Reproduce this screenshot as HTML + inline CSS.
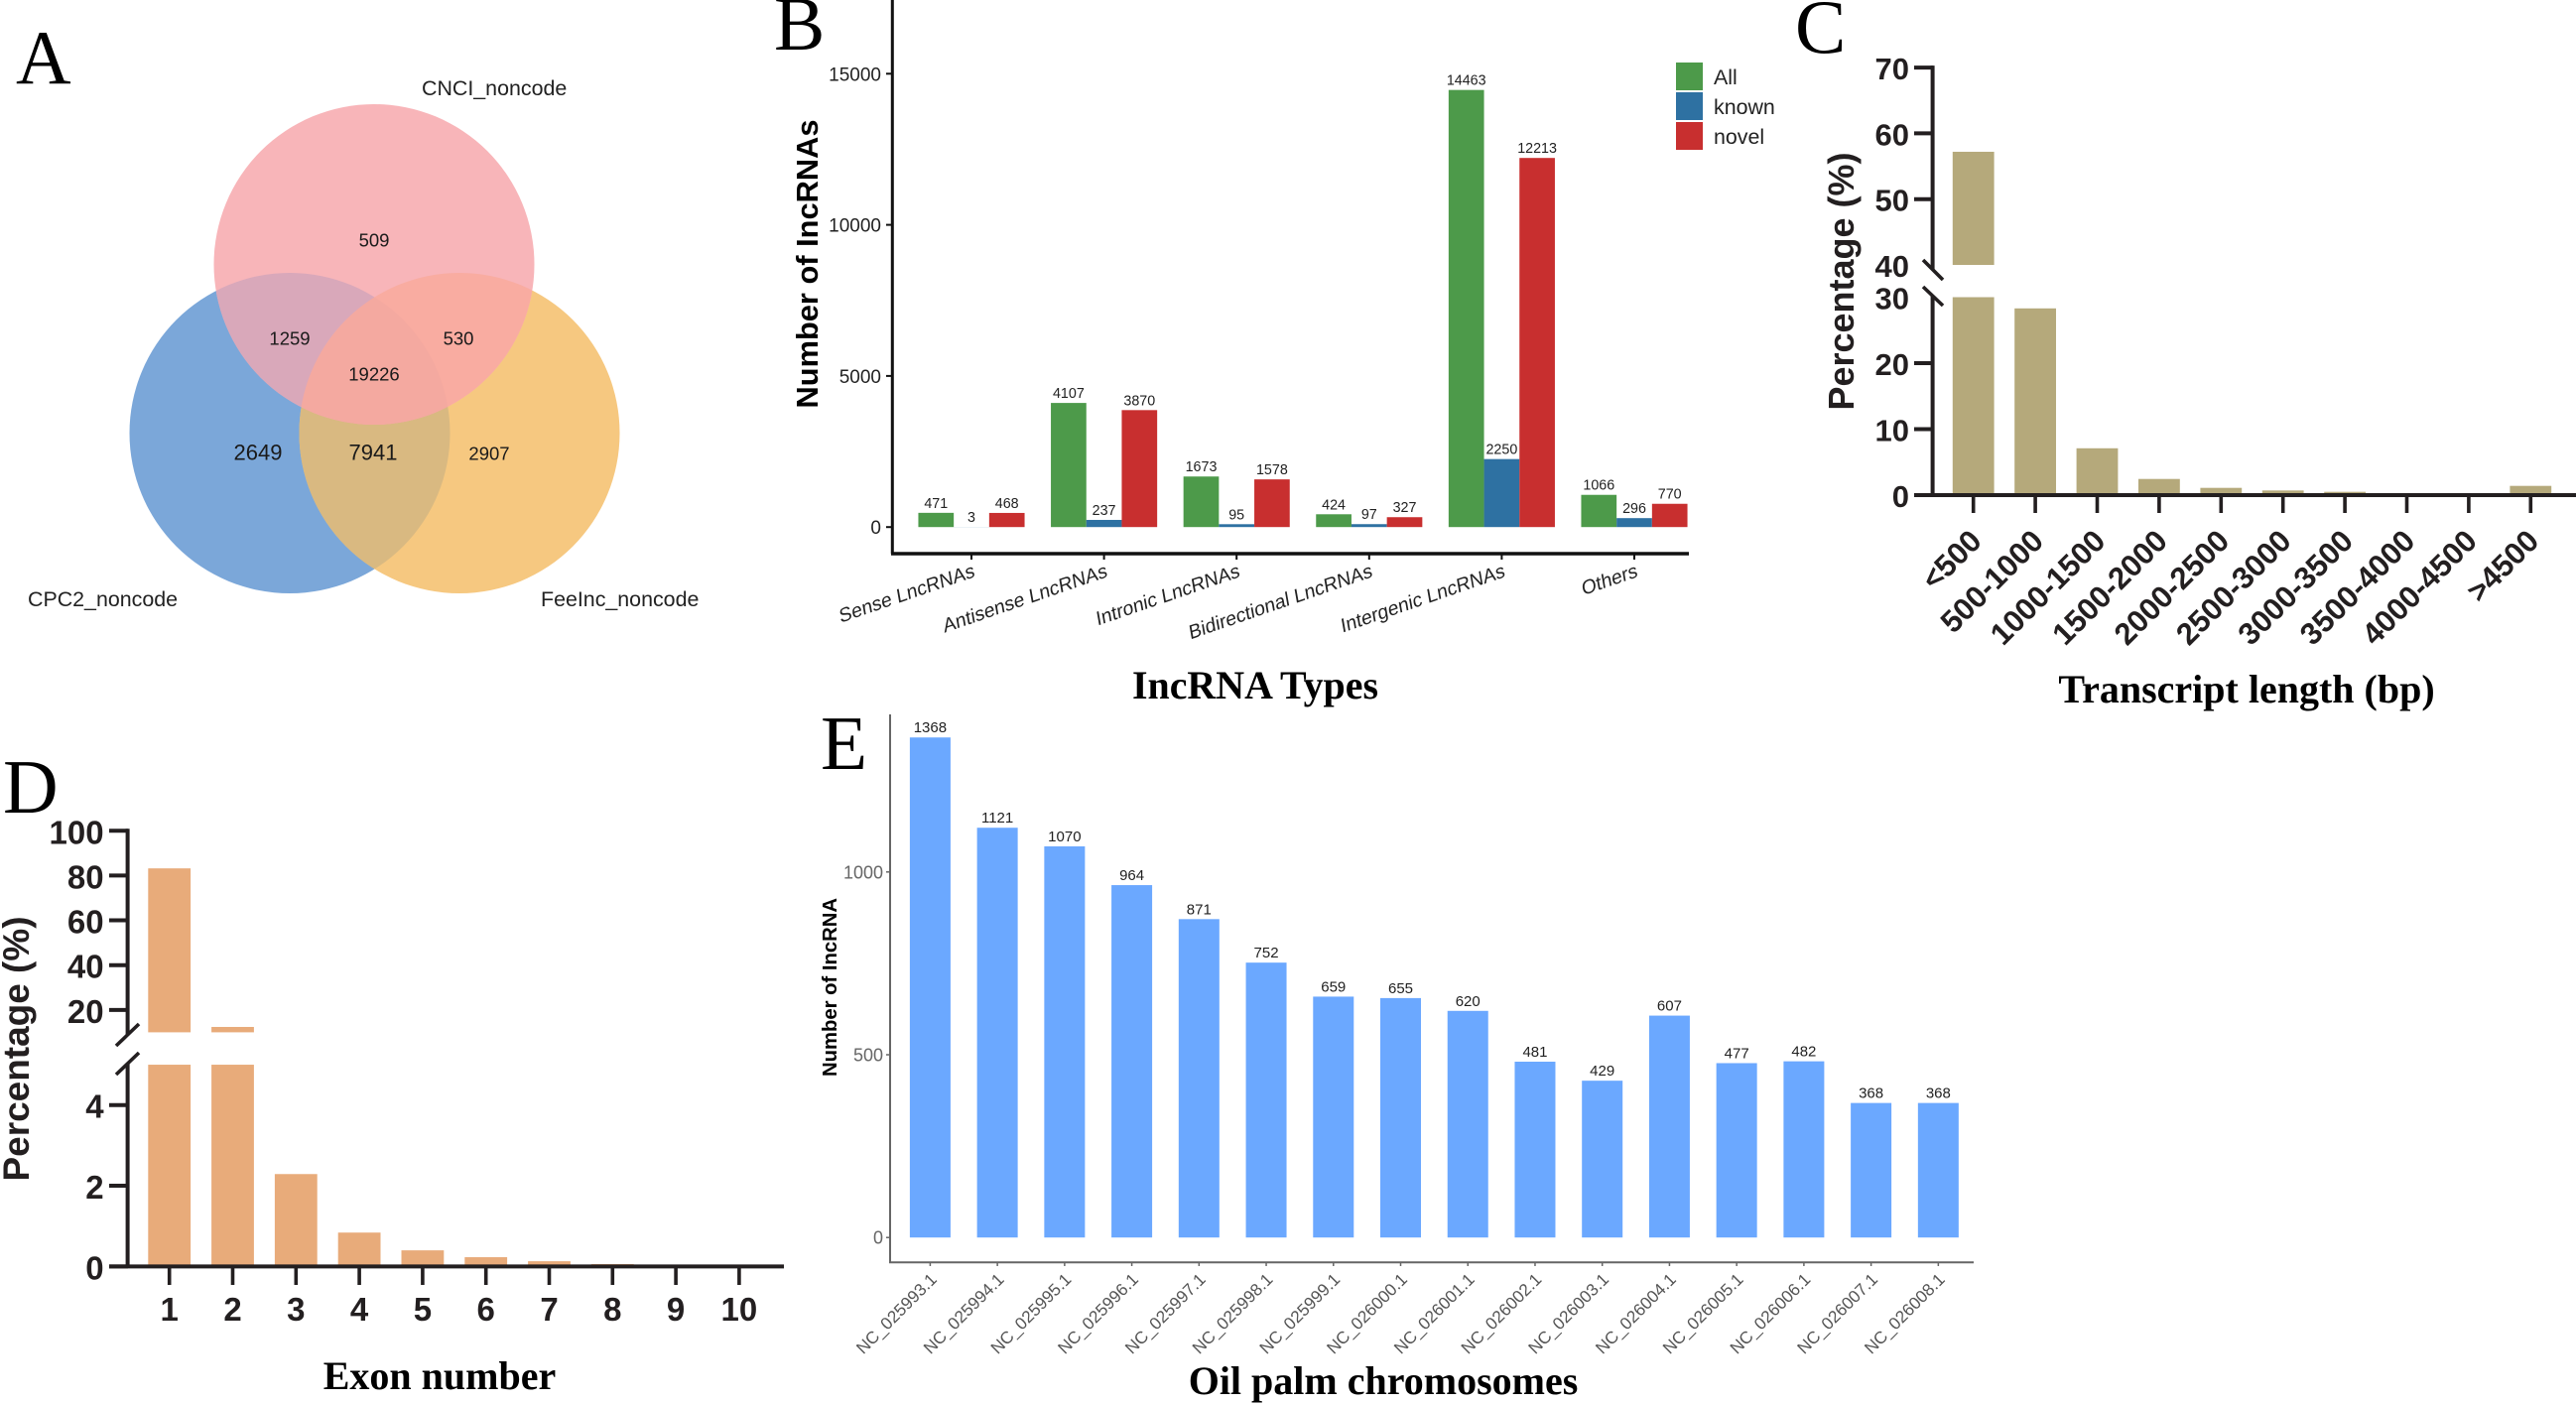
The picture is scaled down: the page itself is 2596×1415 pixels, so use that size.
<!DOCTYPE html>
<html lang="en">
<head>
<meta charset="utf-8">
<title>lncRNA identification figure</title>
<style>
html,body{margin:0;padding:0;background:#fff;width:2596px;height:1415px;overflow:hidden}
svg{display:block;font-family:"Liberation Sans",sans-serif}
.letter{font-family:"Liberation Serif",serif;font-size:77px;fill:#000}
.serif-title{font-family:"Liberation Serif",serif;font-weight:bold;font-size:40px;fill:#000}
.venn-t{font-size:18.5px;fill:#1a1a1a;text-anchor:middle;dominant-baseline:central}
.venn-b{font-size:22px;fill:#1a1a1a;text-anchor:middle;dominant-baseline:central}
.venn-n{font-size:21.4px;fill:#222}
</style>
</head>
<body>
<svg id="figure" xmlns="http://www.w3.org/2000/svg" width="2596" height="1415" viewBox="0 0 2596 1415">
  <defs>
    <clipPath id="clip-top"><circle cx="377" cy="266.5" r="161.5"/></clipPath>
    <clipPath id="clip-left"><circle cx="292" cy="436.5" r="161.5"/></clipPath>
    <clipPath id="clip-right"><circle cx="463" cy="436.5" r="161.5"/></clipPath>
  </defs>
  <rect x="0" y="0" width="2596" height="1415" fill="#fff"/>

  <g id="panel-a">
    <text class="letter" x="16" y="84">A</text>
    <circle cx="292" cy="436.5" r="161.5" fill="#7BA7D9"/>
    <circle cx="463" cy="436.5" r="161.5" fill="#F6C880"/>
    <circle cx="377" cy="266.5" r="161.5" fill="#F8B5B9"/>
    <g clip-path="url(#clip-left)">
      <circle cx="463" cy="436.5" r="161.5" fill="#D9B981"/>
      <circle cx="377" cy="266.5" r="161.5" fill="#D9A8BA"/>
    </g>
    <g clip-path="url(#clip-right)">
      <circle cx="377" cy="266.5" r="161.5" fill="#F9ACA1"/>
    </g>
    <g clip-path="url(#clip-left)">
      <g clip-path="url(#clip-right)">
        <circle cx="377" cy="266.5" r="161.5" fill="#F4A9A0"/>
      </g>
    </g>
    <text class="venn-n" x="425" y="96">CNCI_noncode</text>
    <text class="venn-n" x="28" y="611">CPC2_noncode</text>
    <text class="venn-n" x="545" y="611">FeeInc_noncode</text>
    <text class="venn-t" x="377" y="242">509</text>
    <text class="venn-t" x="292" y="341">1259</text>
    <text class="venn-t" x="462" y="341">530</text>
    <text class="venn-t" x="377" y="377">19226</text>
    <text class="venn-b" x="260" y="456">2649</text>
    <text class="venn-b" x="376" y="456">7941</text>
    <text class="venn-t" x="493" y="457">2907</text>
  </g>

  <g id="panel-b">
    <text class="letter" x="780" y="50">B</text>
    <text class="serif-title" x="1265" y="704" text-anchor="middle" textLength="248" lengthAdjust="spacingAndGlyphs">IncRNA Types</text>
    <text transform="translate(824 266) rotate(-90)" text-anchor="middle" font-weight="bold" font-size="31" textLength="291" lengthAdjust="spacingAndGlyphs" fill="#000">Number of IncRNAs</text>
  </g>

  <g id="panel-c">
    <text class="letter" x="1809" y="53">C</text>
    <text class="serif-title" x="2264" y="708" text-anchor="middle">Transcript length (bp)</text>
    <text transform="translate(1868 283.5) rotate(-90)" text-anchor="middle" font-weight="bold" font-size="36" fill="#231F20">Percentage (%)</text>
  </g>

  <g id="panel-d">
    <text class="letter" x="3" y="819">D</text>
    <text class="serif-title" x="443" y="1400" text-anchor="middle">Exon number</text>
    <text transform="translate(29 1057) rotate(-90)" text-anchor="middle" font-weight="bold" font-size="37" textLength="267" lengthAdjust="spacingAndGlyphs" fill="#231F20">Percentage (%)</text>
  </g>

  <g id="panel-e">
    <text class="letter" x="827" y="775">E</text>
    <text class="serif-title" x="1394" y="1405" text-anchor="middle">Oil palm chromosomes</text>
    <text transform="translate(843 995) rotate(-90)" text-anchor="middle" font-weight="bold" font-size="20" textLength="180" lengthAdjust="spacingAndGlyphs" fill="#000">Number of IncRNA</text>
  </g>
</svg>

<script>
// Panel B data
const bCategories = ["Sense LncRNAs", "Antisense LncRNAs", "Intronic LncRNAs", "Bidirectional LncRNAs", "Intergenic LncRNAs", "Others"];
const bSeriesNames = ["All", "known", "novel"];
const bAll = [471, 4107, 1673, 424, 14463, 1066];
const bKnown = [3, 237, 95, 97, 2250, 296];
const bNovel = [468, 3870, 1578, 327, 12213, 770];
const bTicks = [0, 5000, 10000, 15000];

// Panel C data
const cCategories = ["<500", "500-1000", "1000-1500", "1500-2000", "2000-2500", "2500-3000", "3000-3500", "3500-4000", "4000-4500", ">4500"];
const cValues = [57.2, 28.3, 7.1, 2.45, 1.1, 0.7, 0.5, 0.3, 0.1, 1.4];
const cTicksLower = [0, 10, 20, 30];
const cTicksUpper = [40, 50, 60, 70];

// Panel D data
const dCategories = ["1", "2", "3", "4", "5", "6", "7", "8", "9", "10"];
const dValues = [83.2, 12.4, 2.29, 0.84, 0.4, 0.23, 0.13, 0.06, 0.02, 0.01];
const dTicksLower = [0, 2, 4];
const dTicksUpper = [20, 40, 60, 80, 100];

// Panel E data
const eCategories = ["NC_025993.1", "NC_025994.1", "NC_025995.1", "NC_025996.1", "NC_025997.1", "NC_025998.1", "NC_025999.1", "NC_026000.1", "NC_026001.1", "NC_026002.1", "NC_026003.1", "NC_026004.1", "NC_026005.1", "NC_026006.1", "NC_026007.1", "NC_026008.1"];
const eValues = [1368, 1121, 1070, 964, 871, 752, 659, 655, 620, 481, 429, 607, 477, 482, 368, 368];
const eTicks = [0, 500, 1000];

const NS = "http://www.w3.org/2000/svg";
function mk(parent, tag, props, txt) {
  const node = document.createElementNS(NS, tag);
  for (const k in props) node.setAttribute(k, props[k]);
  if (txt !== undefined) node.textContent = txt;
  parent.appendChild(node);
  return node;
}
function slug(s) { return String(s).toLowerCase().replace(/[^a-z0-9]+/g, "-").replace(/^-|-$/g, ""); }

// axis functions
const yB = v => 531.2 - v * 0.03046;
const xB = (g, s) => 979 + g * 133.6 + (s - 1) * 35.7;
const yC = v => v <= 30 ? 499 - v * 6.65 : 267 - (v - 40) * 6.63;
const xC = i => 1988.7 + i * 62.4;
const yD = v => v <= 5 ? 1276.4 - v * 40.67 : 1040.4 - (v - 10) * 2.257;
const xD = i => 170.7 + i * 63.8;
const yE = v => 1247.2 - v * 0.3684;
const xE = i => 937.4 + i * 67.73;

/* ---------- Panel B ---------- */
const pb = document.getElementById("panel-b");
const bColors = ["#4D9A4A", "#2E71A2", "#C82F2F"];
const bSeries = [bAll, bKnown, bNovel];
const bAxisY = mk(pb, "line", {x1: 899.3, y1: 0, x2: 899.3, y2: 558, stroke: "#111", "stroke-width": 3});


const bAxisX = mk(pb, "line", {x1: 898, y1: 558, x2: 1702, y2: 558, stroke: "#111", "stroke-width": 3.5});


bTicks.forEach(t => {
  const tk = mk(pb, "line", {x1: 893, y1: yB(t), x2: 899, y2: yB(t), stroke: "#111", "stroke-width": 2});
  
  
  const lb = mk(pb, "text", {x: 888, y: yB(t) + 7, "text-anchor": "end", "font-size": 19, fill: "#222"}, t);
  
  
});
bCategories.forEach((c, g) => {
  bSeries.forEach((vals, s) => {
    const v = vals[g];
    const r = mk(pb, "rect", {x: xB(g, s) - 17.85, y: yB(v), width: 35.7, height: yB(0) - yB(v), fill: bColors[s]});
    
    
    const t = mk(pb, "text", {x: xB(g, s), y: yB(v) - 5, "text-anchor": "middle", "font-size": 14.3, fill: "#222"}, v);
    
    
  });
  const cx = xB(g, 1);
  const tk = mk(pb, "line", {x1: cx, y1: 558, x2: cx, y2: 564, stroke: "#111", "stroke-width": 2});
  
  
  const lb = mk(pb, "text", {transform: "translate(" + (cx + 4) + " 581) rotate(-19) skewX(-9)", "text-anchor": "end", "font-size": 19.6, fill: "#222"}, c);
  
  
});
bSeriesNames.forEach((n, s) => {
  const top = 63 + s * 30;
  const sw = mk(pb, "rect", {x: 1689, y: top, width: 27, height: 28, fill: bColors[s]});
  
  
  const t = mk(pb, "text", {x: 1727, y: top + 22, "font-size": 21.4, fill: "#222"}, n);
  
  
});

/* ---------- Panel C ---------- */
const pc = document.getElementById("panel-c");
const inkC = "#231F20";
cCategories.forEach((c, i) => {
  const v = cValues[i];
  const x = xC(i) - 20.9;
  if (v > 30) {
    const low = mk(pc, "rect", {x: x, y: yC(30), width: 41.8, height: yC(0) - yC(30), fill: "#B5A97B"});
    
    
    const up = mk(pc, "rect", {x: x, y: yC(v), width: 41.8, height: yC(40) - yC(v), fill: "#B5A97B"});
    
    
  } else {
    const r = mk(pc, "rect", {x: x, y: yC(v), width: 41.8, height: yC(0) - yC(v), fill: "#B5A97B"});
    
    
  }
  const tk = mk(pc, "line", {x1: xC(i), y1: 499, x2: xC(i), y2: 517, stroke: inkC, "stroke-width": 3.6});
  
  
  const lb = mk(pc, "text", {transform: "translate(" + (xC(i) + 10) + " 547) rotate(-45)", "text-anchor": "end", "font-size": 31, "font-weight": "bold", fill: inkC}, c);
  
  
});
const cAxisUp = mk(pc, "line", {x1: 1947.6, y1: yC(70) - 2, x2: 1947.6, y2: 272, stroke: inkC, "stroke-width": 4});


const cAxisLow = mk(pc, "line", {x1: 1947.6, y1: 298, x2: 1947.6, y2: 501, stroke: inkC, "stroke-width": 4});


const cAxisX = mk(pc, "line", {x1: 1929, y1: 499, x2: 2596, y2: 499, stroke: inkC, "stroke-width": 4});


const cSlash1 = mk(pc, "line", {x1: 1938, y1: 262, x2: 1958, y2: 282, stroke: inkC, "stroke-width": 3.6});


const cSlash2 = mk(pc, "line", {x1: 1938, y1: 289, x2: 1958, y2: 308, stroke: inkC, "stroke-width": 3.6});


cTicksLower.concat(cTicksUpper).forEach(t => {
  if (t !== 30 && t !== 40) {
    const tk = mk(pc, "line", {x1: 1929, y1: yC(t), x2: 1948, y2: yC(t), stroke: inkC, "stroke-width": 4});
    
    
  }
  const lb = mk(pc, "text", {x: 1924, y: yC(t) + 12, "text-anchor": "end", "font-size": 31, "font-weight": "bold", fill: inkC}, t);
  
  
});

/* ---------- Panel D ---------- */
const pd = document.getElementById("panel-d");
dCategories.forEach((c, i) => {
  const v = dValues[i];
  const x = xD(i) - 21.4;
  if (v > 5) {
    const low = mk(pd, "rect", {x: x, y: yD(5), width: 42.8, height: yD(0) - yD(5), fill: "#E8AB7A"});
    
    
    const up = mk(pd, "rect", {x: x, y: yD(v), width: 42.8, height: yD(10) - yD(v), fill: "#E8AB7A"});
    
    
  } else {
    const r = mk(pd, "rect", {x: x, y: yD(v), width: 42.8, height: yD(0) - yD(v), fill: "#E8AB7A"});
    
    
  }
  const tk = mk(pd, "line", {x1: xD(i), y1: 1276, x2: xD(i), y2: 1295, stroke: inkC, "stroke-width": 3.6});
  
  
  const lb = mk(pd, "text", {x: xD(i), y: 1331, "text-anchor": "middle", "font-size": 33, "font-weight": "bold", fill: inkC}, c);
  
  
});
const dAxisUp = mk(pd, "line", {x1: 128.6, y1: yD(100) - 2, x2: 128.6, y2: 1043, stroke: inkC, "stroke-width": 4});


const dAxisLow = mk(pd, "line", {x1: 128.6, y1: 1072, x2: 128.6, y2: 1278, stroke: inkC, "stroke-width": 4});


const dAxisX = mk(pd, "line", {x1: 110, y1: 1276.4, x2: 790, y2: 1276.4, stroke: inkC, "stroke-width": 4});


const dSlash1 = mk(pd, "line", {x1: 117, y1: 1054, x2: 140, y2: 1032, stroke: inkC, "stroke-width": 3.6});


const dSlash2 = mk(pd, "line", {x1: 117, y1: 1083, x2: 140, y2: 1061, stroke: inkC, "stroke-width": 3.6});


dTicksLower.concat(dTicksUpper).forEach(t => {
  const tk = mk(pd, "line", {x1: 110, y1: yD(t), x2: 129, y2: yD(t), stroke: inkC, "stroke-width": 4});
  
  
  const lb = mk(pd, "text", {x: 104.6, y: yD(t) + 13, "text-anchor": "end", "font-size": 33, "font-weight": "bold", fill: inkC}, t);
  
  
});

/* ---------- Panel E ---------- */
const pe = document.getElementById("panel-e");
const eAxisY = mk(pe, "line", {x1: 897, y1: 720, x2: 897, y2: 1272, stroke: "#666", "stroke-width": 2});


const eAxisX = mk(pe, "line", {x1: 896, y1: 1272.3, x2: 1989, y2: 1272.3, stroke: "#666", "stroke-width": 2});


eTicks.forEach(t => {
  const tk = mk(pe, "line", {x1: 893, y1: yE(t), x2: 897, y2: yE(t), stroke: "#666", "stroke-width": 1.5});
  
  
  const lb = mk(pe, "text", {x: 890, y: yE(t) + 6.5, "text-anchor": "end", "font-size": 18, fill: "#666"}, t);
  
  
});
eCategories.forEach((c, i) => {
  const v = eValues[i];
  const r = mk(pe, "rect", {x: xE(i) - 20.5, y: yE(v), width: 41, height: yE(0) - yE(v), fill: "#6BA8FF"});
  
  
  const t = mk(pe, "text", {x: xE(i), y: yE(v) - 5, "text-anchor": "middle", "font-size": 15, fill: "#222"}, v);
  
  
  const tk = mk(pe, "line", {x1: xE(i), y1: 1272, x2: xE(i), y2: 1276, stroke: "#666", "stroke-width": 1.5});
  
  
  const lb = mk(pe, "text", {transform: "translate(" + (xE(i) + 7.6) + " 1290.5) rotate(-45)", "text-anchor": "end", "font-size": 17.2, fill: "#555"}, c);
  
  
});
</script>
</body>
</html>
